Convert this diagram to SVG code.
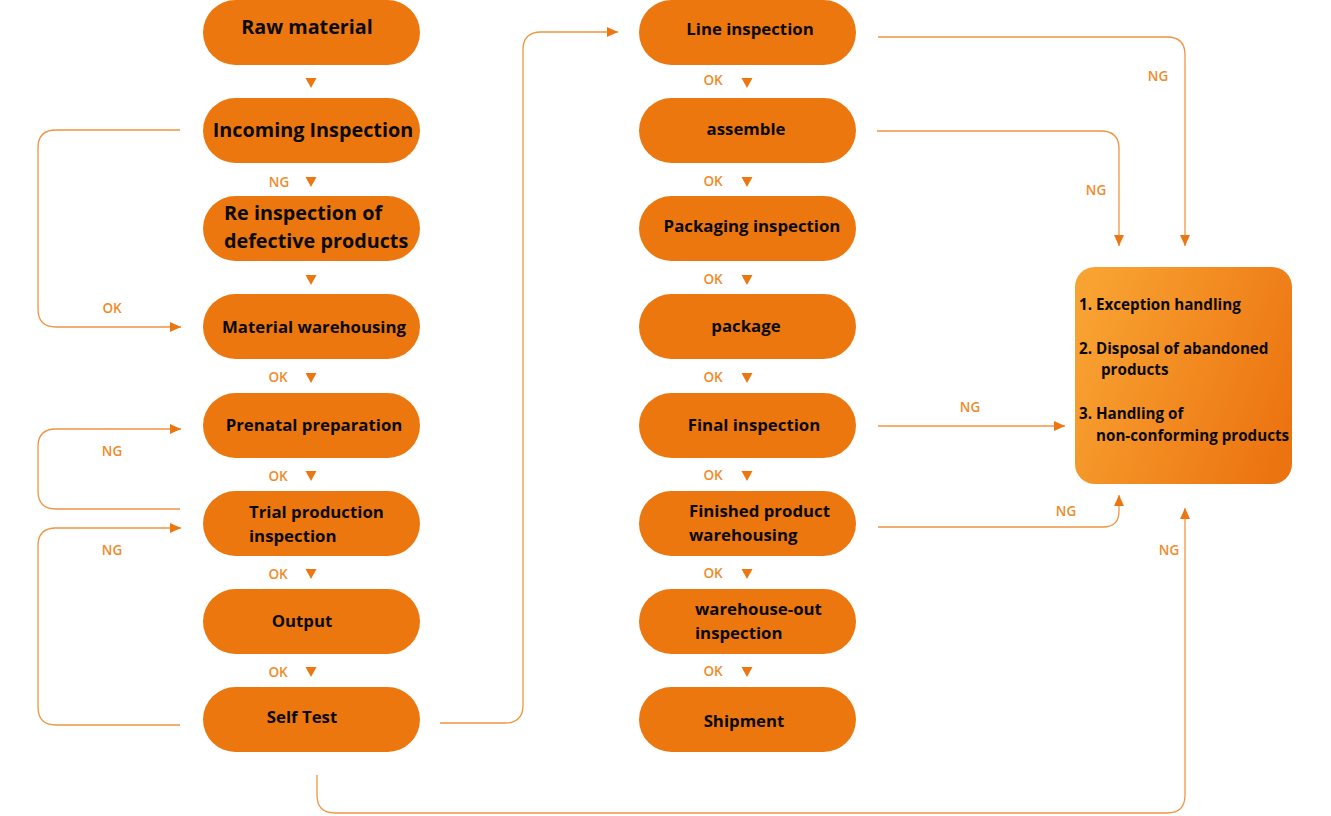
<svg xmlns="http://www.w3.org/2000/svg" width="1331" height="816" viewBox="0 0 1331 816">
<defs>
<linearGradient id="boxGrad" x1="0" y1="0.3" x2="1" y2="0.7">
<stop offset="0" stop-color="#F8A232"/>
<stop offset="1" stop-color="#EC7410"/>
</linearGradient>
<marker id="arr" markerUnits="userSpaceOnUse" markerWidth="12" markerHeight="12" refX="11" refY="5" orient="auto" viewBox="0 0 12 10">
<path d="M0,0 L11,5 L0,10 z" fill="#EC7711"/>
</marker>
</defs>
<style>
.pill{fill:#EC770E}
.t{font-family:"Open Sans","Noto Sans","DejaVu Sans",sans-serif;font-weight:700;fill:#0A0A0A;font-size:16.8px}
.tb{font-size:19.8px}
.tr{font-size:15.2px}
.lb{font-family:"Open Sans","Noto Sans","DejaVu Sans",sans-serif;font-weight:600;fill:#F08A2A;font-size:13.5px;text-anchor:middle}
.c{fill:none;stroke:#F09440;stroke-width:1.3}
.tri{fill:#EC7711}
</style>
<rect x="0" y="0" width="1331" height="816" fill="#FFFFFF"/>

<g id="connectors">
<path class="c" d="M180,130 H56 Q38,130 38,148 V309 Q38,327 56,327 H181" marker-end="url(#arr)"/>
<path class="c" d="M180,509 H56 Q38,509 38,491 V447 Q38,429 56,429 H181" marker-end="url(#arr)"/>
<path class="c" d="M180,725 H56 Q38,725 38,707 V546 Q38,528 56,528 H181" marker-end="url(#arr)"/>
<path class="c" d="M440,723 H505 Q523,723 523,705 V50 Q523,32 541,32 H618" marker-end="url(#arr)"/>
<path class="c" d="M317,775 V795 Q317,813 335,813 H1167 Q1185,813 1185,795 V508" marker-end="url(#arr)"/>
<path class="c" d="M878,37 H1167 Q1185,37 1185,55 V246" marker-end="url(#arr)"/>
<path class="c" d="M877,131 H1101 Q1119,131 1119,149 V246" marker-end="url(#arr)"/>
<path class="c" d="M878,426 H1065" marker-end="url(#arr)"/>
<path class="c" d="M878,527 H1103 Q1119,527 1119,511 V495" marker-end="url(#arr)"/>
<polygon class="tri" points="305.5,78 316.5,78 311,88"/>
<polygon class="tri" points="305.5,177 316.5,177 311,187"/>
<polygon class="tri" points="305.5,275 316.5,275 311,285"/>
<polygon class="tri" points="305.5,373 316.5,373 311,383"/>
<polygon class="tri" points="305.5,471 316.5,471 311,481"/>
<polygon class="tri" points="305.5,569 316.5,569 311,579"/>
<polygon class="tri" points="305.5,667 316.5,667 311,677"/>
<polygon class="tri" points="741.5,78 752.5,78 747,88"/>
<polygon class="tri" points="741.5,177 752.5,177 747,187"/>
<polygon class="tri" points="741.5,275 752.5,275 747,285"/>
<polygon class="tri" points="741.5,373 752.5,373 747,383"/>
<polygon class="tri" points="741.5,471 752.5,471 747,481"/>
<polygon class="tri" points="741.5,569 752.5,569 747,579"/>
<polygon class="tri" points="741.5,667 752.5,667 747,677"/>
<text class="lb" x="279" y="187">NG</text>
<text class="lb" x="278" y="382">OK</text>
<text class="lb" x="278" y="481">OK</text>
<text class="lb" x="278" y="579">OK</text>
<text class="lb" x="278" y="677">OK</text>
<text class="lb" x="112" y="313">OK</text>
<text class="lb" x="112" y="456">NG</text>
<text class="lb" x="112" y="555">NG</text>
<text class="lb" x="713" y="85">OK</text>
<text class="lb" x="713" y="186">OK</text>
<text class="lb" x="713" y="284">OK</text>
<text class="lb" x="713" y="382">OK</text>
<text class="lb" x="713" y="480">OK</text>
<text class="lb" x="713" y="578">OK</text>
<text class="lb" x="713" y="676">OK</text>
<text class="lb" x="1158" y="81">NG</text>
<text class="lb" x="1096" y="195">NG</text>
<text class="lb" x="970" y="412">NG</text>
<text class="lb" x="1066" y="516">NG</text>
<text class="lb" x="1169" y="555">NG</text>
</g>

<g id="raw-material"><rect class="pill" x="203" y="0" width="217" height="65" rx="32.5"/><text class="t tb" x="307" y="34" text-anchor="middle">Raw material</text></g>
<g id="incoming-inspection"><rect class="pill" x="203" y="98" width="217" height="65" rx="32.5"/><text class="t tb" x="313" y="137" text-anchor="middle">Incoming Inspection</text></g>
<g id="re-inspection"><rect class="pill" x="203" y="196" width="217" height="65" rx="32.5"/><text class="t tb" x="224" y="220">Re inspection of</text><text class="t tb" x="224" y="248">defective products</text></g>
<g id="material-warehousing"><rect class="pill" x="203" y="294" width="217" height="65" rx="32.5"/><text class="t" x="314" y="333" text-anchor="middle">Material warehousing</text></g>
<g id="prenatal-preparation"><rect class="pill" x="203" y="393" width="217" height="65" rx="32.5"/><text class="t" x="314" y="431" text-anchor="middle">Prenatal preparation</text></g>
<g id="trial-production"><rect class="pill" x="203" y="491" width="217" height="65" rx="32.5"/><text class="t" x="249" y="518">Trial production</text><text class="t" x="249" y="542">inspection</text></g>
<g id="output"><rect class="pill" x="203" y="589" width="217" height="65" rx="32.5"/><text class="t" x="302" y="627" text-anchor="middle">Output</text></g>
<g id="self-test"><rect class="pill" x="203" y="687" width="217" height="65" rx="32.5"/><text class="t" x="302" y="723" text-anchor="middle">Self Test</text></g>

<g id="line-inspection"><rect class="pill" x="639" y="0" width="217" height="65" rx="32.5"/><text class="t" x="750" y="35" text-anchor="middle">Line inspection</text></g>
<g id="assemble"><rect class="pill" x="639" y="98" width="217" height="65" rx="32.5"/><text class="t" x="746" y="135" text-anchor="middle">assemble</text></g>
<g id="packaging-inspection"><rect class="pill" x="639" y="196" width="217" height="65" rx="32.5"/><text class="t" x="752" y="232" text-anchor="middle">Packaging inspection</text></g>
<g id="package"><rect class="pill" x="639" y="294" width="217" height="65" rx="32.5"/><text class="t" x="746" y="332" text-anchor="middle">package</text></g>
<g id="final-inspection"><rect class="pill" x="639" y="393" width="217" height="65" rx="32.5"/><text class="t" x="754" y="431" text-anchor="middle">Final inspection</text></g>
<g id="finished-product-warehousing"><rect class="pill" x="639" y="491" width="217" height="65" rx="32.5"/><text class="t" x="689" y="517">Finished product</text><text class="t" x="689" y="541">warehousing</text></g>
<g id="warehouse-out-inspection"><rect class="pill" x="639" y="589" width="217" height="65" rx="32.5"/><text class="t" x="695" y="615">warehouse-out</text><text class="t" x="695" y="639">inspection</text></g>
<g id="shipment"><rect class="pill" x="639" y="687" width="217" height="65" rx="32.5"/><text class="t" x="744" y="727" text-anchor="middle">Shipment</text></g>

<g id="handling-box"><rect x="1075" y="267" width="217" height="217" rx="20" fill="url(#boxGrad)"/>
<text class="t tr" x="1079" y="310">1. Exception handling</text>
<text class="t tr" x="1079" y="354">2. Disposal of abandoned</text>
<text class="t tr" x="1101" y="375">products</text>
<text class="t tr" x="1079" y="419">3. Handling of</text>
<text class="t tr" x="1096" y="441">non-conforming products</text>
</g>
</svg>
